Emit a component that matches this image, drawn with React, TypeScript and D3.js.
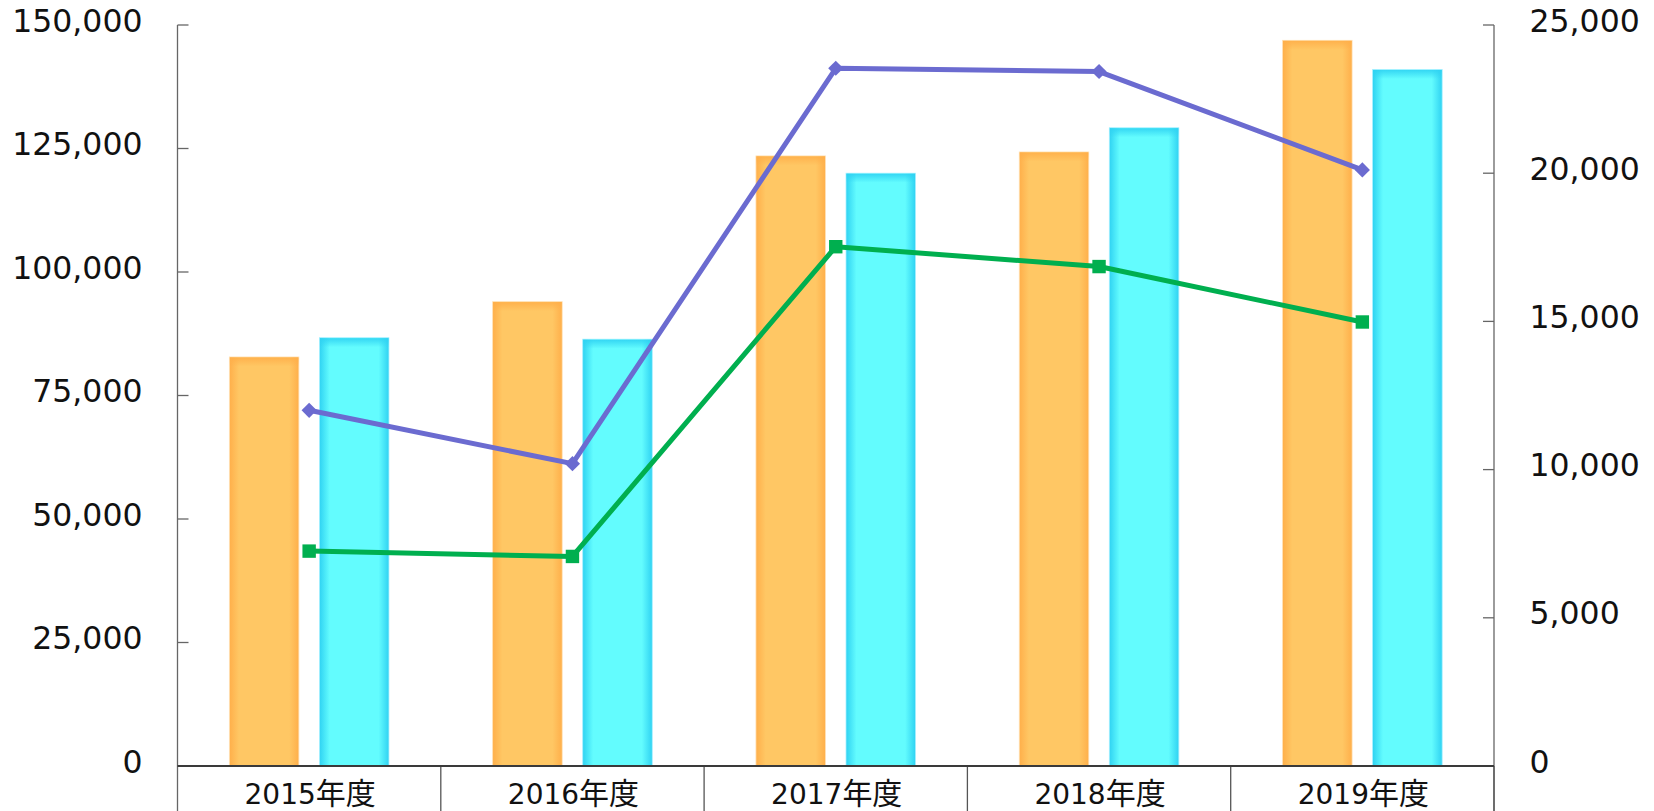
import React from "react";
import * as d3 from "d3";

const categories = ["2015年度", "2016年度", "2017年度", "2018年度", "2019年度"];
const orangeValues = [82800, 94000, 123500, 124300, 146900];
const cyanValues = [86700, 86400, 120000, 129200, 141000];
const purpleValues = [12000, 10200, 23540, 23430, 20110];
const greenValues = [7250, 7070, 17520, 16850, 14980];
const leftTicks = [0, 25000, 50000, 75000, 100000, 125000, 150000];
const rightTicks = [0, 5000, 10000, 15000, 20000, 25000];
const barSeries = ["orange", "cyan"];

const W = 1654;
const H = 811;
const X0 = 177.5;
const X1 = 1494;
const YTOP = 25;
const YBOT = 766;

const fmt = d3.format(",");

export default function App() {
  const x = d3.scaleBand<string>().domain(categories).range([X0, X1]).padding(0);
  const xi = d3
    .scaleBand<string>()
    .domain(barSeries)
    .range([0, x.bandwidth()])
    .paddingInner(0.2278)
    .paddingOuter(0.5756);
  const yL = d3.scaleLinear().domain([0, 150000]).range([YBOT, YTOP]);
  const yR = d3.scaleLinear().domain([0, 25000]).range([YBOT, YTOP]);
  const cx = (c: string) => (x(c) as number) + x.bandwidth() / 2;

  const purpleLine = d3
    .line<number>()
    .x((_, i) => cx(categories[i]))
    .y((d) => yR(d))(purpleValues) as string;
  const greenLine = d3
    .line<number>()
    .x((_, i) => cx(categories[i]))
    .y((d) => yR(d))(greenValues) as string;

  const diamond = d3.symbol().type(d3.symbolSquare).size(115)() as string;
  const square = d3.symbol().type(d3.symbolSquare).size(180)() as string;

  const bars: { key: string; values: number[]; grad: string; top: string; stroke: string }[] = [
    { key: "orange", values: orangeValues, grad: "url(#gOrange)", top: "url(#gOrangeTop)", stroke: "#FFE2B8" },
    { key: "cyan", values: cyanValues, grad: "url(#gCyan)", top: "url(#gCyanTop)", stroke: "#A8F0FF" },
  ];

  const tickFont = "'DejaVu Sans', Verdana, sans-serif";

  return (
    <svg
      width={W}
      height={H}
      viewBox={`0 0 ${W} ${H}`}
      style={{ position: "absolute", left: 0, top: 0, background: "#fff" }}
    >
      <defs>
        <linearGradient id="gOrange" x1="0" x2="1" y1="0" y2="0">
          <stop offset="0" stopColor="#FFAF4A" />
          <stop offset="0.14" stopColor="#FFC764" />
          <stop offset="0.86" stopColor="#FFC764" />
          <stop offset="1" stopColor="#FFAF4A" />
        </linearGradient>
        <linearGradient id="gOrangeTop" x1="0" x2="0" y1="0" y2="1">
          <stop offset="0" stopColor="#FFAF4A" stopOpacity="0.9" />
          <stop offset="1" stopColor="#FFAF4A" stopOpacity="0" />
        </linearGradient>
        <linearGradient id="gCyan" x1="0" x2="1" y1="0" y2="0">
          <stop offset="0" stopColor="#2FD2F2" />
          <stop offset="0.15" stopColor="#63FCFE" />
          <stop offset="0.85" stopColor="#63FCFE" />
          <stop offset="1" stopColor="#2FD2F2" />
        </linearGradient>
        <linearGradient id="gCyanTop" x1="0" x2="0" y1="0" y2="1">
          <stop offset="0" stopColor="#2FD2F2" stopOpacity="0.9" />
          <stop offset="1" stopColor="#2FD2F2" stopOpacity="0" />
        </linearGradient>
      </defs>

      {/* bars */}
      {bars.map((s) => (
        <g key={s.key}>
          {s.values.map((v, i) => {
            const bx = (x(categories[i]) as number) + (xi(s.key) as number);
            const by = yL(v);
            const bh = YBOT - by;
            const bw = xi.bandwidth();
            return (
              <g key={i}>
                <rect x={bx} y={by} width={bw} height={bh} fill={s.grad} stroke={s.stroke} strokeWidth={0.8} />
                <rect x={bx + 0.5} y={by + 0.5} width={bw - 1} height={9} fill={s.top} />
              </g>
            );
          })}
        </g>
      ))}

      {/* left axis */}
      <line x1={X0} x2={X0} y1={YTOP} y2={H} stroke="#666" strokeWidth={1.3} />
      {leftTicks.map((t) => (
        <g key={t}>
          <line x1={X0} x2={X0 + 11} y1={yL(t)} y2={yL(t)} stroke="#666" strokeWidth={1.3} />
          <text
            x={142.5}
            y={yL(t) + 6.5}
            textAnchor="end"
            fontFamily={tickFont}
            fontSize={31.5}
            fill="#111"
          >
            {fmt(t)}
          </text>
        </g>
      ))}

      {/* right axis */}
      <line x1={X1} x2={X1} y1={YTOP} y2={H} stroke="#666" strokeWidth={1.3} />
      {rightTicks.map((t) => (
        <g key={t}>
          <line x1={X1 - 11} x2={X1} y1={yR(t)} y2={yR(t)} stroke="#666" strokeWidth={1.3} />
          <text
            x={1529.5}
            y={yR(t) + 6.5}
            textAnchor="start"
            fontFamily={tickFont}
            fontSize={31.5}
            fill="#111"
          >
            {fmt(t)}
          </text>
        </g>
      ))}

      {/* category dividers and labels */}
      {categories.map((c) => {
        const m = c.match(/^(\d+)(.*)$/);
        const num = m ? m[1] : c;
        const rest = m ? m[2] : "";
        return (
          <g key={c}>
            <line
              x1={(x(c) as number) + x.bandwidth()}
              x2={(x(c) as number) + x.bandwidth()}
              y1={YBOT}
              y2={H}
              stroke="#555"
              strokeWidth={1.3}
            />
            <text x={cx(c) + 1} y={804.3} textAnchor="middle" fill="#111">
              <tspan fontFamily="'DejaVu Sans', Verdana, sans-serif" fontSize={28}>
                {num}
              </tspan>
              <tspan fontFamily="'Noto Sans CJK JP', sans-serif" fontSize={30}>
                {rest}
              </tspan>
            </text>
          </g>
        );
      })}
      <line x1={X0} x2={X1} y1={YBOT} y2={YBOT} stroke="#3a3a3a" strokeWidth={2} />

      {/* lines */}
      <path d={purpleLine} fill="none" stroke="#6B6BD0" strokeWidth={5} strokeLinejoin="round" />
      {purpleValues.map((v, i) => (
        <path
          key={i}
          d={diamond}
          transform={`translate(${cx(categories[i])},${yR(v)}) rotate(45)`}
          fill="#6B6BD0"
        />
      ))}
      <path d={greenLine} fill="none" stroke="#00AF4F" strokeWidth={5} strokeLinejoin="round" />
      {greenValues.map((v, i) => (
        <path key={i} d={square} transform={`translate(${cx(categories[i])},${yR(v)})`} fill="#00AF4F" />
      ))}
    </svg>
  );
}
